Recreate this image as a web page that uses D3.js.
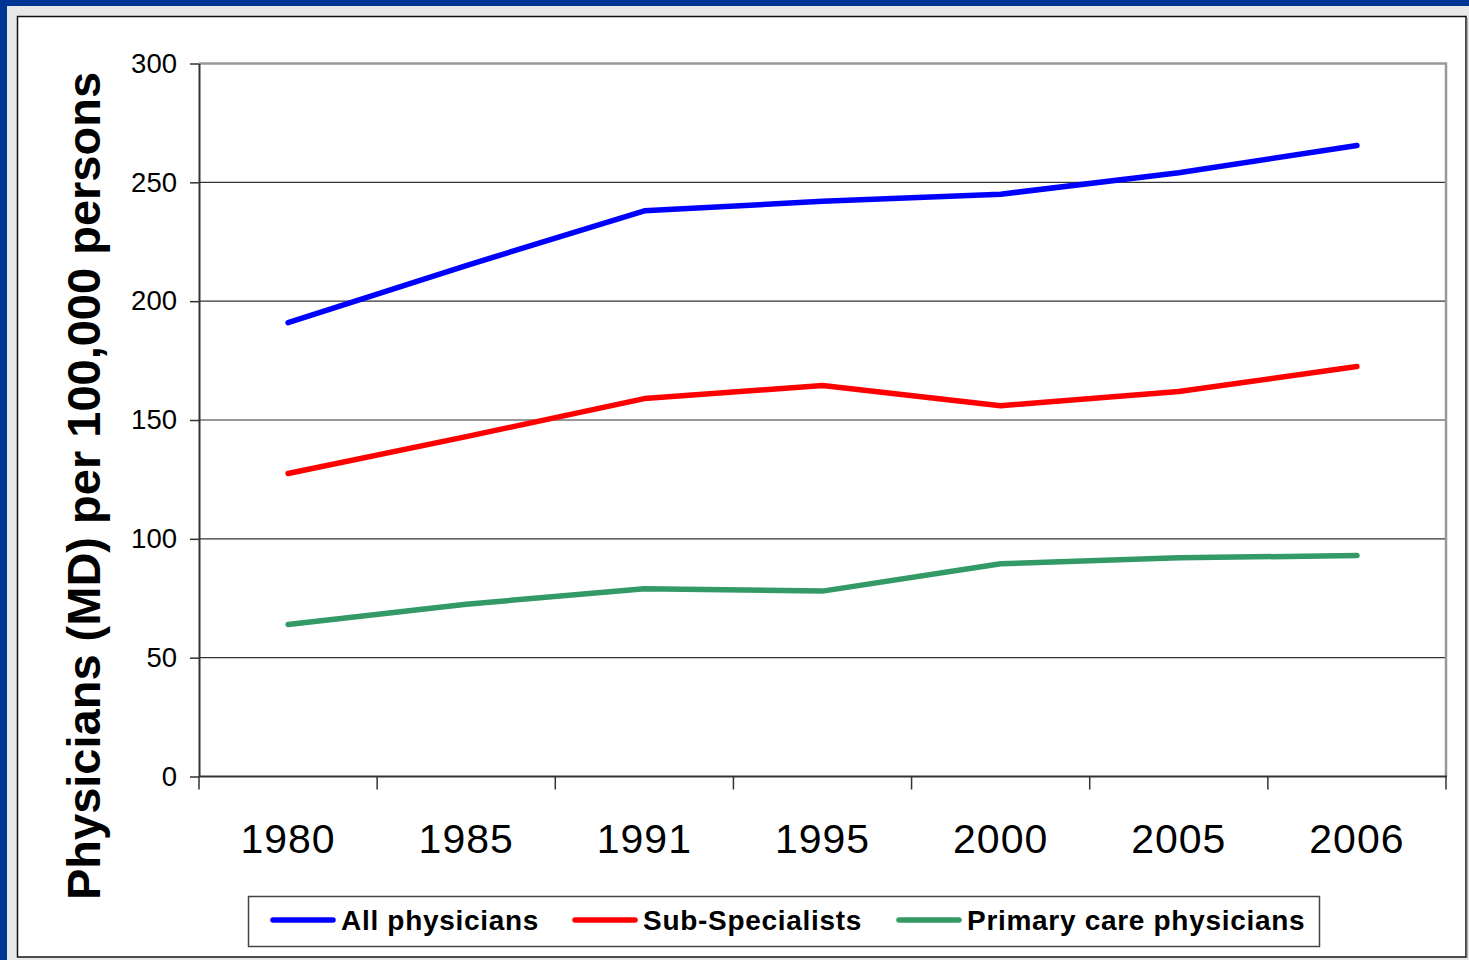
<!DOCTYPE html>
<html>
<head>
<meta charset="utf-8">
<script src="https://cdn.jsdelivr.net/npm/d3@7/dist/d3.min.js"></script>
<style>
  html, body { margin: 0; padding: 0; background: #003594; }
  svg { display: block; }
  text { font-family: Arial, "Liberation Sans", sans-serif; }
</style>
</head>
<body>
<div id="chart"></div>
<script>
// Data
const years = ['1980', '1985', '1991', '1995', '2000', '2005', '2006'];
const allPhysicians = [191, 215, 238, 242, 245, 254, 265.5];
const subSpecialists = [127.5, 143, 159, 164.5, 156, 162, 172.5];
const primaryCare = [64, 72.5, 79, 78, 89.5, 92, 93];
const yTicks = [0, 50, 100, 150, 200, 250, 300];

const series = [
    { name: 'All physicians', values: allPhysicians, color: '#0000ff' },
    { name: 'Sub-Specialists', values: subSpecialists, color: '#ff0000' },
    { name: 'Primary care physicians', values: primaryCare, color: '#339966' }
];

const W = 1469, H = 960;
const plot = { left: 199, right: 1446, top: 63.5, bottom: 776.5 };

const svg = d3.select('#chart').append('svg').attr('width', W).attr('height', H);

// Frame: navy edge, light gray band, white slide with black border
svg.append('rect').attr('x', 0).attr('y', 0).attr('width', W).attr('height', H).attr('fill', '#003594');
svg.append('rect').attr('x', 7).attr('y', 6).attr('width', W - 7).attr('height', H - 6).attr('fill', '#e8e8e8');
svg.append('rect').attr('x', 17.5).attr('y', 16.5).attr('width', 1448.5).attr('height', 940.5)
    .attr('fill', '#fff').attr('stroke', '#111').attr('stroke-width', 1.5);
svg.append('line').attr('x1', 1467).attr('x2', 1467).attr('y1', 18).attr('y2', 958)
    .attr('stroke', '#777').attr('stroke-width', 1);

const x = d3.scaleBand().domain(years).range([plot.left, plot.right]).padding(0);
const y = d3.scaleLinear().domain([0, 300]).range([plot.bottom, plot.top]);

// Horizontal gridlines
svg.append('g').selectAll('line')
    .data(yTicks.filter(t => t > 0 && t < 300))
    .join('line')
    .attr('x1', plot.left).attr('x2', plot.right)
    .attr('y1', d => y(d)).attr('y2', d => y(d))
    .attr('stroke', '#333').attr('stroke-width', 1.2);

// Plot border top/right in gray
svg.append('path')
    .attr('d', `M${plot.left},${plot.top}H${plot.right}V${plot.bottom}`)
    .attr('fill', 'none').attr('stroke', '#999').attr('stroke-width', 2.5);

// Y axis
const yAxis = d3.axisLeft(y).tickValues(yTicks).tickSize(9).tickPadding(13).tickSizeOuter(0);
const gy = svg.append('g').attr('transform', `translate(${plot.left},0)`).call(yAxis);
gy.select('.domain').attr('stroke', '#333').attr('stroke-width', 2);
gy.selectAll('.tick line').attr('stroke', '#333').attr('stroke-width', 1.5);
gy.selectAll('.tick text').attr('font-size', 27.5).attr('fill', '#000')
    .attr('font-family', 'Arial, "Liberation Sans", sans-serif');

// X axis: ticks on category boundaries
const gx = svg.append('g');
gx.append('line').attr('x1', plot.left).attr('x2', plot.right + 1)
    .attr('y1', plot.bottom).attr('y2', plot.bottom)
    .attr('stroke', '#333').attr('stroke-width', 2);
const boundaries = years.map(d => x(d)).concat([x(years[years.length - 1]) + x.bandwidth()]);
gx.selectAll('.xt').data(boundaries).join('line')
    .attr('class', 'xt')
    .attr('x1', d => d).attr('x2', d => d)
    .attr('y1', plot.bottom).attr('y2', plot.bottom + 13)
    .attr('stroke', '#333').attr('stroke-width', 1.5);
gx.selectAll('.xl').data(years).join('text')
    .attr('class', 'xl')
    .attr('x', d => x(d) + x.bandwidth() / 2)
    .attr('y', 853)
    .attr('text-anchor', 'middle')
    .attr('font-size', 41)
    .attr('letter-spacing', 1)
    .attr('fill', '#000')
    .text(d => d);

// Y axis title
svg.append('text')
    .attr('transform', 'translate(100,486) rotate(-90)')
    .attr('text-anchor', 'middle')
    .attr('font-size', 47)
    .attr('font-weight', 'bold')
    .attr('fill', '#000')
    .text('Physicians (MD) per 100,000 persons');

// Lines
const line = d3.line()
    .x((d, i) => x(years[i]) + x.bandwidth() / 2)
    .y(d => y(d));

svg.append('g').selectAll('path')
    .data(series)
    .join('path')
    .attr('d', d => line(d.values))
    .attr('fill', 'none')
    .attr('stroke', d => d.color)
    .attr('stroke-width', 5.5)
    .attr('stroke-linecap', 'round')
    .attr('stroke-linejoin', 'round');

// Legend
const legend = svg.append('g');
legend.append('rect')
    .attr('x', 248.5).attr('y', 896.5).attr('width', 1071).attr('height', 50)
    .attr('fill', '#fff').attr('stroke', '#444').attr('stroke-width', 1.5);
const legendX = [271, 573, 897];
const items = legend.selectAll('.li').data(series).join('g')
    .attr('class', 'li')
    .attr('transform', (d, i) => `translate(${legendX[i]},920)`);
items.append('line')
    .attr('x1', 2).attr('x2', 62).attr('y1', 0).attr('y2', 0)
    .attr('stroke', d => d.color).attr('stroke-width', 5.5)
    .attr('stroke-linecap', 'round');
items.append('text')
    .attr('x', 70).attr('y', 10)
    .attr('font-size', 28)
    .attr('letter-spacing', 0.7)
    .attr('font-weight', 'bold')
    .attr('fill', '#000')
    .text(d => d.name);
</script>
</body>
</html>
